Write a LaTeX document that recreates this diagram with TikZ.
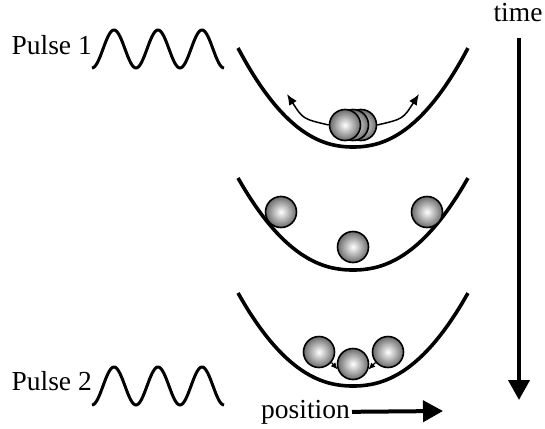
\documentclass[tikz,border=0pt]{standalone}
\usepackage{fontspec}
\setmainfont{Liberation Serif}
\usetikzlibrary{arrows.meta}

\tikzstyle{ball} = [circle, draw, line width=1.6pt, minimum size=31pt,
	inner sep=0pt, shading=radial, inner color=white, outer color=black!58]
\tikzstyle{well} = [line width=3.6pt]
\tikzstyle{pulse} = [line width=3pt]
\tikzstyle{txt} = [font=\fontsize{27.5}{32}\selectfont, inner sep=0pt]
\tikzstyle{timeline} = [line width=4pt, -{Triangle[length=20pt,width=21pt]}]
\tikzstyle{push} = [line width=1.5pt, -{Latex[length=11pt,width=9pt]}]
\tikzstyle{nudge} = [line width=1.2pt, -{Latex[length=7pt,width=6pt]}]

% potential well: x centre 353, rim at #1, bottom at #2
\newcommand{\well}[2]{\draw[well] plot[domain=-1:1, samples=40, smooth]
	({353+115*\x}, {#2-(#2-#1)*pow(abs(\x),2.2)});}

\begin{document}
\begin{tikzpicture}[x=1pt, y=-1pt]
	\useasboundingbox (0,0) rectangle (545,428);

	% Wells
	\well{48}{147}
	\well{178}{270}
	\well{293}{386}

	% Pulses (period 44, so 360/44 deg per unit)
	\node [txt, anchor=base east] (pulseA) at (92,55) {Pulse 1};
	\node [txt, anchor=base east] (pulseB) at (92,390) {Pulse 2};
	\draw [pulse] plot[domain=0:132, samples=100] ({92+\x}, {49+19*cos(8.1818*\x)});
	\draw [pulse] plot[domain=0:132, samples=100] ({92+\x}, {386+19*cos(8.1818*\x)});

	% Place nodes
	\node [ball] (b1c) at (361,125) {};
	\node [ball] (b1b) at (353,125) {};
	\node [ball] (b1a) at (345,125) {};
	\node [ball] (b2l) at (281,212) {};
	\node [ball] (b2m) at (353,247) {};
	\node [ball] (b2r) at (427,212) {};
	\node [ball] (b3l) at (319,352) {};
	\node [ball] (b3m) at (353,364) {};
	\node [ball] (b3r) at (388,352) {};
	\node [txt, anchor=base] (time) at (518,22) {time};
	\node [txt, anchor=base east] (pos) at (350,418) {position};
	\coordinate (aL) at (287,94);
	\coordinate (aR) at (419,94);
	\coordinate (t0) at (519,38);
	\coordinate (t1) at (519,400);
	\coordinate (posEnd) at (443,411);

	% Draw edges
	\draw [push] (b1a.west) .. controls (303,119) .. (aL);
	\draw [push] (b1c.east) .. controls (403,119) .. (aR);
	\draw [nudge] (b3l.-40) -- (b3m.200);
	\draw [nudge] (b3r.220) -- (b3m.-20);
	\draw [timeline] (t0) -- (t1);
	\draw [timeline] ([xshift=2pt]pos.east) -- (posEnd);
\end{tikzpicture}
\end{document}
